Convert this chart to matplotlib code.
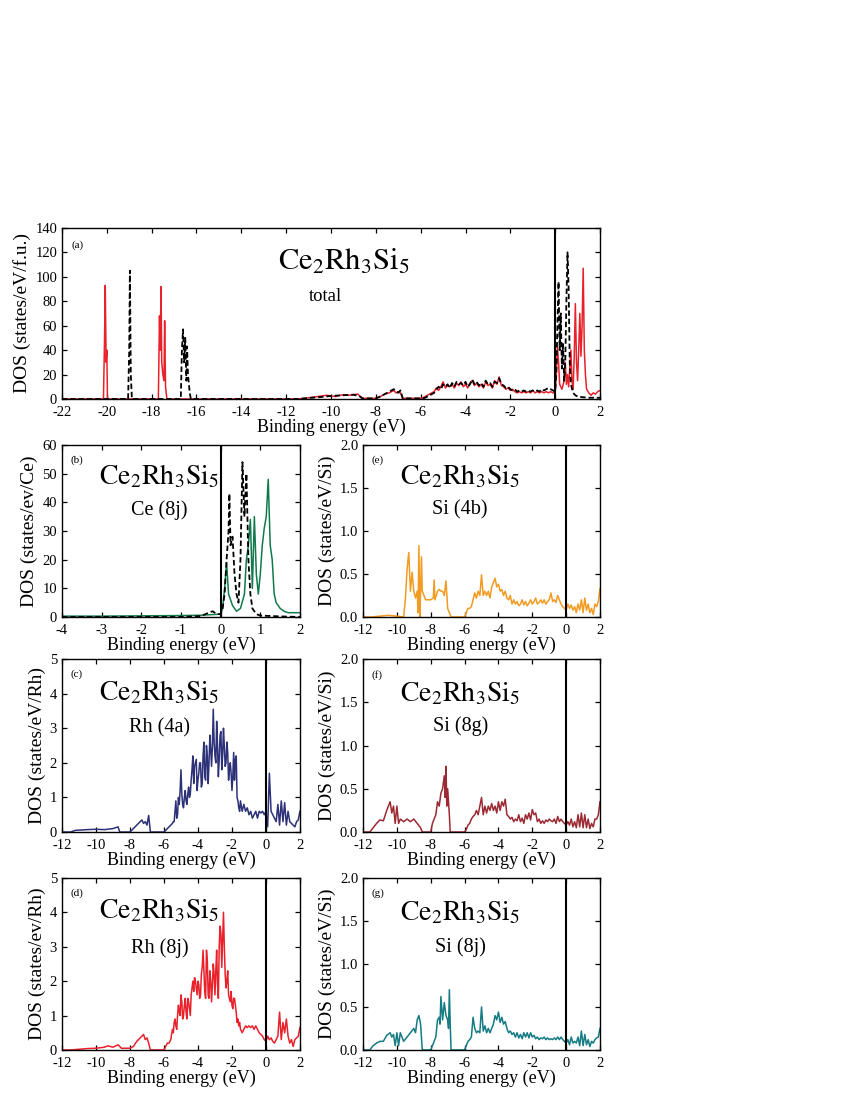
import numpy as np
import matplotlib
matplotlib.use("Agg")
import matplotlib.pyplot as plt

plt.rcParams['font.family'] = ['Liberation Serif', 'DejaVu Serif']
plt.rcParams['mathtext.fontset'] = 'stix'
plt.rcParams['axes.unicode_minus'] = False
plt.rcParams['xtick.direction'] = 'in'
plt.rcParams['ytick.direction'] = 'in'
plt.rcParams['xtick.top'] = True
plt.rcParams['ytick.right'] = True
plt.rcParams['xtick.minor.visible'] = False
plt.rcParams['ytick.minor.visible'] = False

# ---------------- data ----------------
grid_dense = np.round(np.arange(-5.9, 2.001, 0.1), 2)      # 80 points
grid_total = np.round(np.arange(-5.9, 0.001, 0.1), 2)      # 60 points
grid_mid = np.round(np.arange(-5.45, -1.5, 0.1), 2)        # 40 points, between grid_dense points

# (a) total DOS, solid red
tot_red_lowE = [-22, -20.15, -20.1, -20.07, -20.03, -20.0, -19.97, -17.7, -17.65, -17.62, -17.58,
                -17.55, -17.5, -17.45, -17.42, -17.38, -17.32, -11.5, -11.2, -11.0, -10.8, -10.6,
                -10.4, -10.2, -10.0, -9.8, -9.6, -9.4, -9.2, -9.0, -8.8, -8.7, -8.6, -8.0, -7.8,
                -7.6, -7.4, -7.2, -7.1, -7.0, -6.9, -6.8, -6.0]
tot_red_lowD = [0, 0, 50, 93, 30, 40, 0, 0, 68, 40, 92,
                30, 20, 15, 64, 10, 0, 0, 0.5, 1, 1.5, 2,
                2.5, 3, 2.5, 2, 3, 3.5, 3, 3.5, 4, 2, 0.5, 0.5, 2,
                4, 5, 7, 5, 6, 5, 0.5, 0.5]
tot_red_val = [1, 2, 3, 4, 5, 6, 9, 7, 10, 14,
               9, 11, 10, 12, 9, 13, 11, 14, 10, 12,
               9, 13, 15, 11, 13, 10, 12, 9, 14, 11,
               12, 9, 15, 12, 18, 11, 10, 8, 9, 7,
               8, 6, 5, 6, 5, 6, 5, 6, 5, 7,
               5, 6, 5, 6, 5, 6, 5, 6, 5, 5]
tot_red_hiE = [0.05, 0.1, 0.15, 0.2, 0.3, 0.4, 0.45, 0.5, 0.55, 0.6, 0.7, 0.75, 0.8, 0.85, 0.9,
               0.95, 1.0, 1.05, 1.1, 1.15, 1.2, 1.25, 1.3, 1.35, 1.4, 1.5, 1.6, 1.7, 1.8, 1.9, 2.0]
tot_red_hiD = [20, 43, 30, 12, 8, 15, 30, 12, 20, 10, 40, 15, 8, 35, 78,
               30, 15, 40, 70, 35, 60, 107, 40, 20, 8, 5, 3, 5, 4, 6, 7]

# (a) total DOS, dashed black
tot_blk_lowE = [-22, -19.05, -19.0, -18.97, -18.93, -18.88, -16.7, -16.65, -16.6, -16.55, -16.5,
                -16.45, -16.42, -16.38, -16.3, -16.25, -11.5, -11.0, -10.5, -10.0, -9.5, -9.0,
                -8.7, -8.6, -8.0, -7.8, -7.5, -7.2, -7.0, -6.9, -6.8, -6.0]
tot_blk_lowD = [0, 0, 40, 105, 20, 0, 0, 40, 57, 30, 50,
                15, 43, 20, 5, 0, 0, 0.8, 1.5, 2.5, 3, 3.5,
                2, 0.5, 0.5, 2, 5, 8, 5, 7, 0.5, 0.5]
tot_blk_val = [0.5, 1, 2, 3, 4, 5, 8, 10, 8, 12,
               10, 12, 9, 13, 10, 14, 12, 13, 11, 14,
               10, 12, 16, 12, 14, 11, 13, 10, 15, 12,
               13, 10, 14, 13, 17, 12, 11, 9, 10, 8,
               7, 8, 6, 7, 6, 7, 6, 7, 6, 7,
               6, 7, 6, 8, 7, 8, 9, 8, 7, 6]
tot_blk_hiE = [0.05, 0.1, 0.15, 0.2, 0.25, 0.3, 0.35, 0.4, 0.45, 0.5, 0.55, 0.6, 0.65, 0.7,
               0.8, 0.9, 1.0, 1.2, 1.5, 2.0]
tot_blk_hiD = [20, 60, 96, 40, 70, 25, 45, 15, 30, 80, 120, 90, 30, 12,
               5, 3, 2, 1.5, 1, 1]

# (b) Ce (8j): solid green and dashed black
ce_grn_E = [-4.0, -3.0, -2.0, -1.0, -0.5, 0.0, 0.05, 0.1, 0.15, 0.2, 0.3, 0.4, 0.5, 0.6, 0.65,
            0.7, 0.75, 0.8, 0.85, 0.9, 0.95, 1.0, 1.05, 1.1, 1.15, 1.2, 1.25, 1.3, 1.35, 1.4,
            1.5, 1.6, 1.7, 2.0]
ce_grn_D = [0.3, 0.3, 0.4, 0.5, 0.6, 1.0, 3, 10, 19, 8, 4, 2, 3, 8, 20,
            25, 34, 10, 35, 15, 8, 15, 25, 31, 35, 48, 25, 20, 8, 5,
            3, 2, 1.5, 1.5]
ce_blk_E = [-4.0, -1.0, -0.5, -0.3, -0.2, -0.1, 0.0, 0.05, 0.1, 0.15, 0.2, 0.22, 0.25, 0.3,
            0.35, 0.4, 0.45, 0.5, 0.55, 0.6, 0.65, 0.7, 0.75, 0.8, 0.9, 1.0, 1.5, 2.0]
ce_blk_D = [0, 0, 0.3, 1.5, 2, 1, 1, 3, 8, 20, 30, 43, 25, 28,
            15, 8, 5, 20, 54, 35, 50, 20, 8, 3, 1, 0.5, 0.2, 0]

# (c) Rh (4a)
rh4a_lowE = [-12, -11.5, -11.2, -10.5, -10.0, -9.5, -9.0, -8.7, -8.6, -8.0, -7.8, -7.6, -7.4,
             -7.3, -7.2, -7.1, -7.0, -6.9, -6.8, -6.0]
rh4a_lowD = [0, 0, 0.05, 0.07, 0.08, 0.07, 0.1, 0.15, 0.0, 0.0, 0.1, 0.2, 0.3,
             0.35, 0.25, 0.3, 0.2, 0.48, 0.0, 0.0]
rh4a_val = [0.05, 0.1, 0.15, 0.2, 0.25, 0.3, 0.9, 0.5, 0.8, 1.8,
            0.8, 1.0, 0.9, 1.1, 1.0, 1.5, 2.2, 1.9, 2.1, 1.5,
            2.0, 1.3, 2.2, 1.6, 2.5, 1.4, 2.8, 1.9, 3.55, 2.2,
            3.2, 1.6, 2.8, 1.8, 3.0, 1.9, 2.6, 1.5, 2.0, 1.2,
            2.3, 2.1, 1.0, 0.7, 0.9, 0.6, 0.8, 0.6, 0.7, 0.5,
            0.6, 0.4, 0.5, 0.6, 0.4, 0.6, 0.55, 0.6, 0.5, 0.6,
            0.15, 1.7, 0.6, 0.5, 0.4, 0.3, 0.8, 0.2, 0.9, 0.3,
            0.85, 0.2, 0.6, 0.3, 0.25, 0.2, 0.15, 0.3, 0.35, 0.6]
rh4a_mid = [0.3, 0.6, 0.4, 1.0, 1.2, 1.1, 0.7, 1.2, 0.8, 1.3,
            1.1, 1.8, 1.4, 2.0, 1.2, 1.7, 2.0, 1.4, 2.6, 1.5,
            2.2, 2.0, 2.4, 2.5, 2.6, 2.0, 2.5, 2.1, 2.9, 2.2,
            2.5, 2.0, 2.3, 1.8, 1.7, 1.6, 1.5, 2.2, 0.9, 0.6]

# (d) Rh (8j)
rh8j_lowE = [-12, -11.5, -11.0, -10.5, -10.0, -9.5, -9.3, -9.0, -8.7, -8.5, -8.0, -7.8, -7.6,
             -7.4, -7.2, -7.1, -7.0, -6.9, -6.8, -6.0]
rh8j_lowD = [0, 0, 0.02, 0.04, 0.05, 0.08, 0.12, 0.08, 0.15, 0.05, 0.05, 0.1, 0.25,
             0.35, 0.45, 0.3, 0.35, 0.2, 0.0, 0.0]
rh8j_val = [0.1, 0.2, 0.2, 0.3, 0.6, 0.8, 0.7, 1.0, 1.1, 1.6,
            0.9, 1.3, 1.1, 1.5, 1.2, 1.6, 2.0, 2.1, 1.8, 2.0,
            1.5, 2.2, 2.9, 1.7, 2.9, 1.6, 2.3, 1.4, 2.5, 1.6,
            2.9, 1.5, 3.6, 2.4, 4.0, 2.2, 2.0, 1.6, 1.4, 1.3,
            1.5, 1.3, 0.8, 0.7, 0.6, 0.5, 0.6, 0.7, 0.65, 0.7,
            0.65, 0.7, 0.6, 0.7, 0.6, 0.5, 0.45, 0.4, 0.3, 0.25,
            0.4, 0.3, 0.35, 0.25, 0.2, 0.3, 0.4, 1.1, 0.3, 0.8,
            0.5, 0.9, 0.4, 0.2, 0.3, 0.1, 0.3, 0.35, 0.4, 0.65]
rh8j_mid = [0.5, 0.9, 0.6, 1.3, 1.0, 1.4, 1.0, 1.5, 0.9, 1.4,
            1.0, 1.8, 1.7, 2.0, 1.6, 1.9, 1.6, 2.4, 2.3, 1.5,
            2.6, 1.5, 2.0, 1.9, 2.2, 2.3, 1.9, 3.0, 3.4, 3.2,
            3.0, 1.8, 2.3, 1.5, 1.7, 1.2, 1.5, 1.1, 0.9, 0.8]

# (e) Si (4b)
si4b_lowE = [-12, -11.5, -11.0, -10.5, -10.0, -9.6, -9.5, -9.4, -9.3, -9.2, -9.1, -9.0, -8.9,
             -8.8, -8.75, -8.7, -8.65, -8.6, -8.55, -8.5, -8.3, -8.0, -7.85, -7.8, -7.75,
             -7.6, -7.5, -7.4, -7.3, -7.2, -7.1, -7.0, -6.9, -6.8, -6.0]
si4b_lowD = [0, 0.0, 0.01, 0.02, 0.01, 0.0, 0.2, 0.55, 0.75, 0.3, 0.52, 0.3, 0.22,
             0.3, 0.05, 0.83, 0.0, 0.3, 0.7, 0.3, 0.2, 0.2, 0.22, 0.43, 0.2,
             0.3, 0.32, 0.3, 0.3, 0.25, 0.42, 0.1, 0.05, 0.0, 0.0]
si4b_val = [0.05, 0.1, 0.1, 0.12, 0.2, 0.28, 0.22, 0.3, 0.25, 0.49,
            0.25, 0.3, 0.25, 0.3, 0.22, 0.35, 0.4, 0.45, 0.35, 0.38,
            0.3, 0.32, 0.25, 0.3, 0.22, 0.2, 0.25, 0.15, 0.2, 0.15,
            0.18, 0.13, 0.15, 0.2, 0.14, 0.18, 0.13, 0.16, 0.2, 0.15,
            0.18, 0.22, 0.15, 0.17, 0.2, 0.16, 0.2, 0.15, 0.18, 0.2,
            0.28, 0.18, 0.2, 0.17, 0.25, 0.2, 0.15, 0.12, 0.1, 0.08,
            0.15, 0.1, 0.14, 0.08, 0.12, 0.05, 0.15, 0.08, 0.2, 0.05,
            0.22, 0.08, 0.15, 0.05, 0.1, 0.03, 0.15, 0.12, 0.18, 0.33]

# (f) Si (8g)
si8g_lowE = [-12, -11.6, -11.4, -11.2, -11.0, -10.8, -10.6, -10.4, -10.3, -10.2, -10.1, -10.0,
             -9.9, -9.8, -9.6, -9.4, -9.2, -9.0, -8.8, -8.6, -8.5, -8.0, -7.9, -7.7, -7.6,
             -7.5, -7.4, -7.3, -7.2, -7.15, -7.1, -7.05, -7.0, -6.9, -6.85, -6.0]
si8g_lowD = [0, 0.0, 0.05, 0.1, 0.14, 0.13, 0.25, 0.35, 0.22, 0.3, 0.1, 0.3,
             0.1, 0.15, 0.12, 0.15, 0.12, 0.15, 0.1, 0.05, 0.0, 0.0, 0.1, 0.2, 0.35,
             0.3, 0.45, 0.5, 0.65, 0.4, 0.76, 0.3, 0.5, 0.2, 0.0, 0.0]
si8g_val = [0.03, 0.08, 0.1, 0.15, 0.18, 0.2, 0.25, 0.2, 0.3, 0.4,
            0.2, 0.3, 0.22, 0.3, 0.25, 0.33, 0.25, 0.3, 0.22, 0.35,
            0.25, 0.35, 0.3, 0.38, 0.2, 0.18, 0.15, 0.17, 0.12, 0.15,
            0.13, 0.2, 0.12, 0.16, 0.1, 0.2, 0.15, 0.22, 0.14, 0.26,
            0.2, 0.22, 0.12, 0.15, 0.1, 0.13, 0.1, 0.14, 0.12, 0.15,
            0.13, 0.12, 0.15, 0.1, 0.18, 0.12, 0.15, 0.12, 0.1, 0.08,
            0.12, 0.08, 0.15, 0.06, 0.12, 0.05, 0.2, 0.06, 0.22, 0.05,
            0.2, 0.05, 0.15, 0.04, 0.1, 0.06, 0.15, 0.15, 0.2, 0.35]

# (g) Si (8j)
si8j_lowE = [-12, -11.6, -11.4, -11.2, -11.0, -10.8, -10.6, -10.4, -10.3, -10.2, -10.1, -10.0,
             -9.9, -9.8, -9.6, -9.4, -9.2, -9.0, -8.9, -8.8, -8.7, -8.6, -8.5, -8.0, -7.9,
             -7.8, -7.7, -7.6, -7.5, -7.45, -7.4, -7.3, -7.2, -7.1, -7.0, -6.95, -6.9,
             -6.85, -6.8, -6.0]
si8j_lowD = [0, 0.0, 0.05, 0.08, 0.1, 0.1, 0.17, 0.2, 0.15, 0.18, 0.05, 0.2,
             0.05, 0.2, 0.1, 0.15, 0.2, 0.25, 0.2, 0.35, 0.4, 0.3, 0.0, 0.0, 0.05,
             0.1, 0.15, 0.35, 0.38, 0.3, 0.62, 0.35, 0.55, 0.4, 0.35, 0.25, 0.7,
             0.3, 0.0, 0.0]
si8j_val = [0.05, 0.1, 0.12, 0.15, 0.38, 0.25, 0.2, 0.22, 0.2, 0.5,
            0.22, 0.28, 0.2, 0.25, 0.2, 0.25, 0.3, 0.4, 0.35, 0.44,
            0.32, 0.38, 0.3, 0.33, 0.25, 0.2, 0.22, 0.18, 0.2, 0.15,
            0.2, 0.14, 0.18, 0.13, 0.2, 0.15, 0.2, 0.14, 0.2, 0.15,
            0.17, 0.13, 0.15, 0.12, 0.14, 0.13, 0.15, 0.12, 0.14, 0.12,
            0.13, 0.12, 0.14, 0.12, 0.15, 0.12, 0.15, 0.12, 0.1, 0.08,
            0.12, 0.06, 0.15, 0.08, 0.1, 0.08, 0.15, 0.05, 0.22, 0.05,
            0.18, 0.06, 0.12, 0.04, 0.1, 0.08, 0.12, 0.14, 0.15, 0.25]

formula = r'$\mathrm{Ce_2Rh_3Si_5}$'
xlabel = 'Binding energy (eV)'

# ---------------- figure ----------------
fig = plt.figure(figsize=(8.5, 11), dpi=100)

TICK_FS = 10.5
XLABEL_FS = 13
YLABEL_FS = 14
TITLE_A_FS = 22
TITLE_FS = 20
SITE_FS = 14.5
TOTAL_FS = 13.5
TAG_FS = 8

def make_axes(rect):
    ax = fig.add_axes(rect)
    for s in ax.spines.values():
        s.set_linewidth(1.0)
    ax.tick_params(labelsize=TICK_FS, width=0.9, length=3.8)
    ax.tick_params(axis='x', pad=5)
    ax.tick_params(axis='y', pad=3.5)
    return ax

ax_a = make_axes([0.0729, 0.6373, 0.633, 0.1555])
ax_b = make_axes([0.0729, 0.4391, 0.280, 0.1564])
ax_e = make_axes([0.4271, 0.4391, 0.2788, 0.1564])
ax_c = make_axes([0.0729, 0.2436, 0.280, 0.1573])
ax_f = make_axes([0.4271, 0.2436, 0.2788, 0.1573])
ax_d = make_axes([0.0729, 0.0455, 0.280, 0.1564])
ax_g = make_axes([0.4271, 0.0455, 0.2788, 0.1564])

RED = '#e8212b'
GREEN = '#117a4c'
ORANGE = '#f29b22'
NAVY = '#2d3178'
DKRED = '#9b2a33'
TEAL = '#157b84'
DASH = (0, (3, 1.6))

def concat(lowE, lowD, grid, vals, hiE=None, hiD=None):
    e = list(lowE) + list(grid)
    d = list(lowD) + list(vals)
    if hiE is not None:
        e += list(hiE)
        d += list(hiD)
    e = np.array(e, dtype=float)
    d = np.array(d, dtype=float)
    order = np.argsort(e, kind='stable')
    return e[order], d[order]

# (a)
e, d = concat(tot_red_lowE, tot_red_lowD, grid_total, tot_red_val, tot_red_hiE, tot_red_hiD)
ax_a.plot(e, d, color=RED, lw=1.1, zorder=2)
e, d = concat(tot_blk_lowE, tot_blk_lowD, grid_total, tot_blk_val, tot_blk_hiE, tot_blk_hiD)
ax_a.plot(e, d, color='black', lw=1.3, ls=DASH, zorder=3)
ax_a.set_xlim(-22, 2)
ax_a.set_ylim(0, 140)
ax_a.set_xticks(np.arange(-22, 2.1, 2))
ax_a.set_yticks(np.arange(0, 141, 20))
ax_a.set_ylabel('DOS (states/eV/f.u.)', fontsize=YLABEL_FS, labelpad=3)
ax_a.set_xlabel(xlabel, fontsize=XLABEL_FS, labelpad=0)
ax_a.text(0.525, 0.80, formula, transform=ax_a.transAxes, ha='center', va='center', fontsize=TITLE_A_FS)
ax_a.text(0.49, 0.60, 'total', transform=ax_a.transAxes, ha='center', va='center', fontsize=TOTAL_FS)
ax_a.text(0.017, 0.90, '(a)', transform=ax_a.transAxes, ha='left', va='center', fontsize=TAG_FS)

# (b)
ax_b.plot(ce_grn_E, ce_grn_D, color=GREEN, lw=1.1, zorder=2)
ax_b.plot(ce_blk_E, ce_blk_D, color='black', lw=1.3, ls=DASH, zorder=3)
ax_b.set_xlim(-4, 2)
ax_b.set_ylim(0, 60)
ax_b.set_xticks(np.arange(-4, 2.1, 1))
ax_b.set_yticks(np.arange(0, 61, 10))
ax_b.set_ylabel('DOS (states/ev/Ce)', fontsize=YLABEL_FS, labelpad=3)

panels = [
    (ax_e, si4b_lowE, si4b_lowD, si4b_val, None, ORANGE, 2.0, 'DOS (states/eV/Si)'),
    (ax_c, rh4a_lowE, rh4a_lowD, rh4a_val, rh4a_mid, NAVY, 5, 'DOS (states/eV/Rh)'),
    (ax_f, si8g_lowE, si8g_lowD, si8g_val, None, DKRED, 2.0, 'DOS (states/eV/Si)'),
    (ax_d, rh8j_lowE, rh8j_lowD, rh8j_val, rh8j_mid, RED, 5, 'DOS (states/ev/Rh)'),
    (ax_g, si8j_lowE, si8j_lowD, si8j_val, None, TEAL, 2.0, 'DOS (states/eV/Si)'),
]
for ax, lowE, lowD, vals, mid, col, ymax, ylab in panels:
    if mid is None:
        e, d = concat(lowE, lowD, grid_dense, vals)
    else:
        e, d = concat(lowE, lowD, grid_dense, vals, grid_mid, mid)
    ax.plot(e, d, color=col, lw=1.1, zorder=2)
    ax.set_xlim(-12, 2)
    ax.set_ylim(0, ymax)
    ax.set_xticks(np.arange(-12, 2.1, 2))
    if ymax == 2.0:
        ax.set_yticks(np.arange(0, 2.01, 0.5))
        ax.set_yticklabels(['0.0', '0.5', '1.0', '1.5', '2.0'])
    else:
        ax.set_yticks(np.arange(0, 5.1, 1))
    ax.set_ylabel(ylab, fontsize=YLABEL_FS, labelpad=3)

for ax, site, tag, tx, ty, sy in [(ax_b, 'Ce (8j)', '(b)', 0.41, 0.82, 0.62),
                                  (ax_e, 'Si (4b)', '(e)', 0.41, 0.82, 0.62),
                                  (ax_c, 'Rh (4a)', '(c)', 0.41, 0.81, 0.60),
                                  (ax_f, 'Si (8g)', '(f)', 0.41, 0.80, 0.61),
                                  (ax_d, 'Rh (8j)', '(d)', 0.41, 0.81, 0.59),
                                  (ax_g, 'Si (8j)', '(g)', 0.41, 0.80, 0.60)]:
    ax.text(tx, ty, formula, transform=ax.transAxes, ha='center', va='center', fontsize=TITLE_FS)
    ax.text(tx, sy, site, transform=ax.transAxes, ha='center', va='center', fontsize=SITE_FS)
    ax.text(0.035, 0.91, tag, transform=ax.transAxes, ha='left', va='center', fontsize=TAG_FS)
    ax.set_xlabel(xlabel, fontsize=XLABEL_FS, labelpad=0)

for ax in [ax_a, ax_b, ax_c, ax_d, ax_e, ax_f, ax_g]:
    ax.axvline(0, color='black', lw=1.5, zorder=4)

fig.savefig('out.png', dpi=100)
